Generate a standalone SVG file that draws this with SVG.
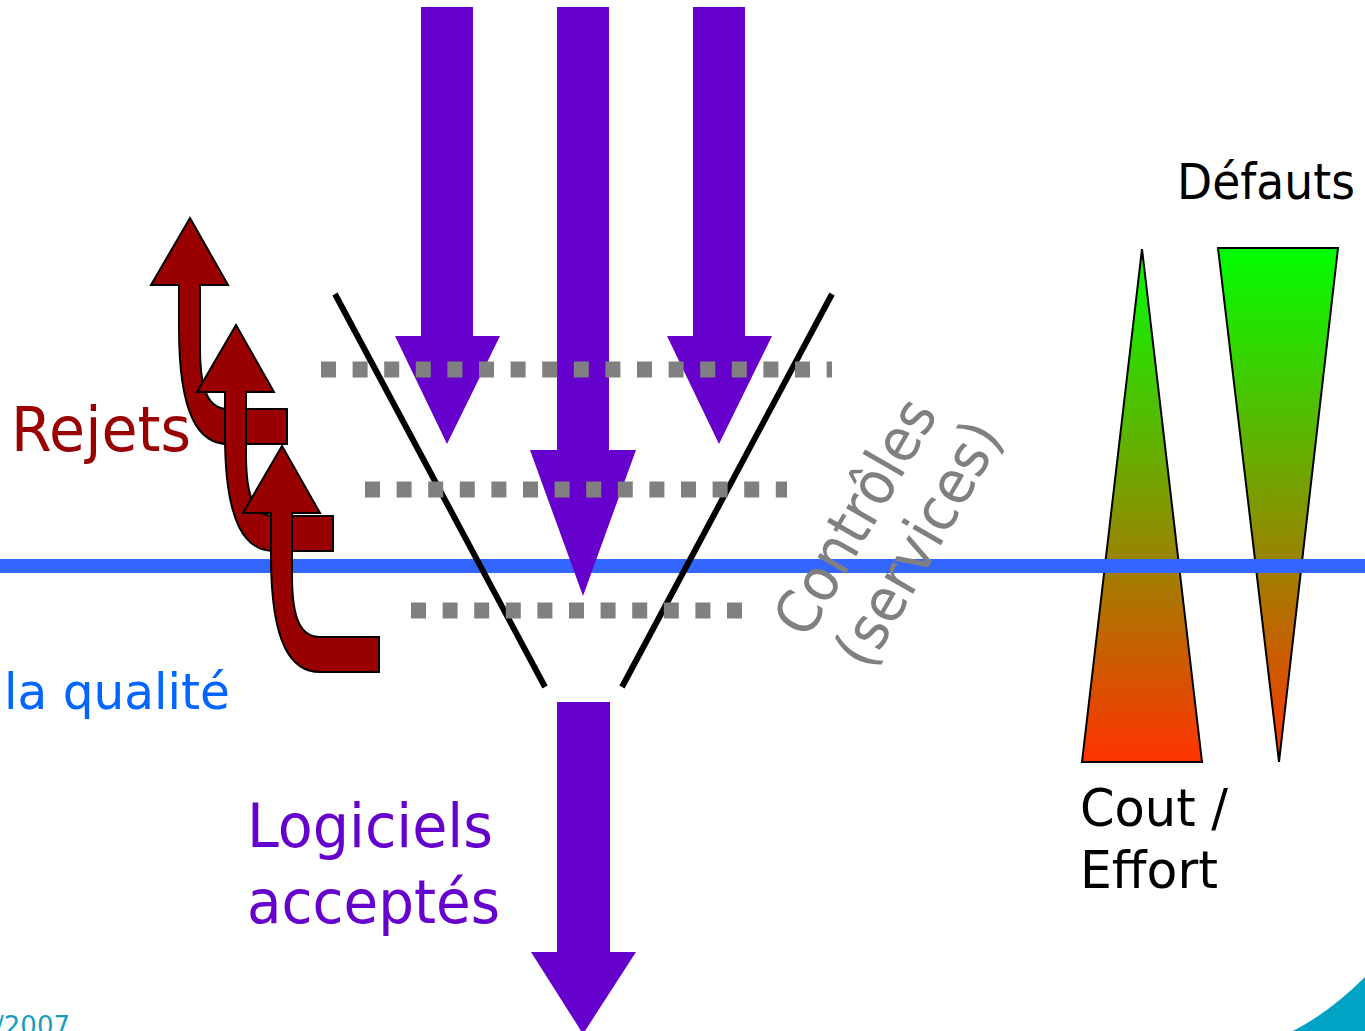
<svg xmlns="http://www.w3.org/2000/svg" width="1365" height="1031" viewBox="0 0 1365 1031">
  <style>
    .txt { font-family: "DejaVu Sans", "Liberation Sans", sans-serif; }
    .purple { fill: #6600CC; }
    .dots { stroke: #808080; stroke-width: 16; stroke-dasharray: 15 16.6; fill: none; }
    .vline { stroke: #000000; stroke-width: 6; fill: none; }
    .tri { stroke: #000000; stroke-width: 2; fill: url(#gr); }
    .rej { fill: #990000; stroke: #000000; stroke-width: 2; stroke-linejoin: miter; }
  </style>
  <defs>
    <linearGradient id="gr" gradientUnits="userSpaceOnUse" x1="0" y1="248" x2="0" y2="762">
      <stop offset="0" stop-color="#00FF00"/>
      <stop offset="1" stop-color="#FF3300"/>
    </linearGradient>
    <path id="rejArrow" d="M0,0 L38,67 L10,67 L10,130 C10,176 20,191 38,191 L97,191 L97,226 L38,226 C10,226 -11,200 -11,110 L-11,67 L-39,67 Z"/>
  </defs>

  <rect x="0" y="0" width="1365" height="1031" fill="#FFFFFF"/>

  <!-- gradient triangles -->
  <g id="triangle-cout">
    <polygon class="tri" points="1142,249 1202,762 1082,762"/>
  </g>
  <g id="triangle-defauts">
    <polygon class="tri" points="1218,248 1338,248 1279,762"/>
  </g>

  <!-- quality line -->
  <g id="quality-line">
    <rect x="0" y="559" width="1365" height="14" fill="#3366FF"/>
  </g>

  <!-- funnel -->
  <g id="funnel">
    <line class="vline" x1="335" y1="294" x2="545" y2="687"/>
    <line class="vline" x1="832" y1="294" x2="622" y2="687"/>
  </g>

  <g id="connectors">
    <!-- purple flows -->
    <polygon class="purple" points="421,7 473,7 473,336 500,336 447,444 395,336 421,336"/>
    <polygon class="purple" points="557,7 609,7 609,450 636,450 583,596 530,450 557,450"/>
    <polygon class="purple" points="693,7 745,7 745,336 772,336 719,444 667,336 693,336"/>
    <polygon class="purple" points="557,702 610,702 610,952 636,952 583,1034 531,952 557,952"/>
    <!-- rejections -->
    <use href="#rejArrow" class="rej" transform="translate(190,218)"/>
    <use href="#rejArrow" class="rej" transform="translate(236,325)"/>
    <use href="#rejArrow" class="rej" transform="translate(282,446)"/>
  </g>

  <!-- control levels -->
  <g id="controls">
    <line class="dots" x1="321" y1="369.5" x2="832" y2="369.5"/>
    <line class="dots" x1="365" y1="489.5" x2="787" y2="489.5"/>
    <line class="dots" x1="411" y1="610.5" x2="742" y2="610.5"/>
  </g>

  <!-- labels -->
  <g id="label-rejets">
    <text class="txt" x="11" y="451" font-size="62" fill="#990000" textLength="180" lengthAdjust="spacingAndGlyphs">Rejets</text>
  </g>
  <g id="label-qualite">
    <text class="txt" x="4" y="709" font-size="50" fill="#0066FF" textLength="226" lengthAdjust="spacingAndGlyphs">la qualité</text>
  </g>
  <g id="label-logiciels">
    <text class="txt" x="247" y="847" font-size="60" fill="#6600CC" textLength="246" lengthAdjust="spacingAndGlyphs">Logiciels</text>
    <text class="txt" x="247" y="923" font-size="60" fill="#6600CC" textLength="253" lengthAdjust="spacingAndGlyphs">acceptés</text>
  </g>
  <g id="label-controles" transform="translate(873,527) rotate(-60)">
    <text class="txt" x="0" y="0" font-size="60" fill="#808080" text-anchor="middle" textLength="262" lengthAdjust="spacingAndGlyphs">Contrôles</text>
    <text class="txt" x="8" y="68" font-size="60" fill="#808080" text-anchor="middle" textLength="272" lengthAdjust="spacingAndGlyphs">(services)</text>
  </g>
  <g id="label-defauts">
    <text class="txt" x="1177" y="199" font-size="50" fill="#000000" textLength="178" lengthAdjust="spacingAndGlyphs">Défauts</text>
  </g>
  <g id="label-cout">
    <text class="txt" x="1080" y="826" font-size="52" fill="#000000" textLength="148" lengthAdjust="spacingAndGlyphs">Cout /</text>
    <text class="txt" x="1080" y="888" font-size="52" fill="#000000" textLength="138" lengthAdjust="spacingAndGlyphs">Effort</text>
  </g>

  <!-- footer -->
  <g id="footer">
    <text class="txt" x="70" y="1035" font-size="26" fill="#1A9CC0" text-anchor="end">/2007</text>
    <path d="M1293,1031 Q1330,1012 1365,977 L1365,1031 Z" fill="#00A3C4"/>
  </g>
</svg>
